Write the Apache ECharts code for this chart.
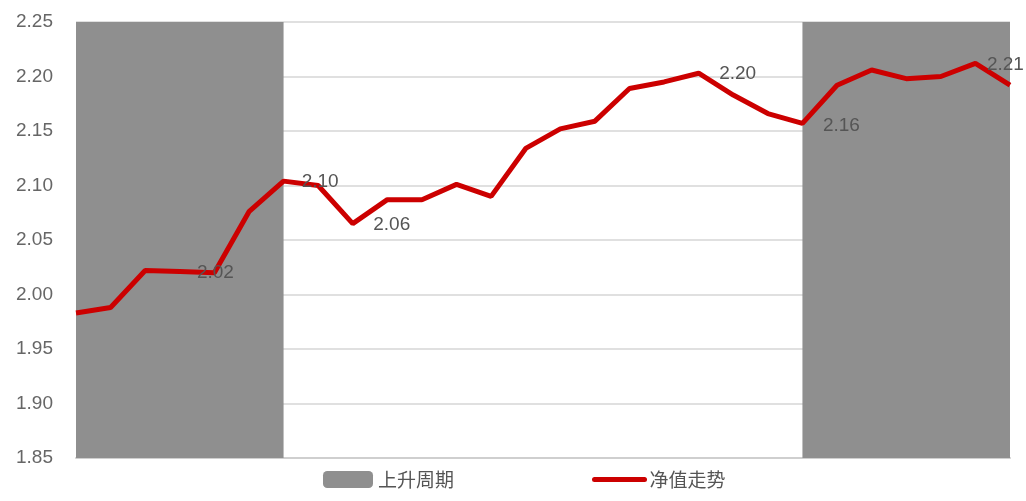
<!DOCTYPE html>
<html>
<head>
<meta charset="utf-8">
<script src="https://cdn.jsdelivr.net/npm/echarts@6/dist/echarts.min.js"></script>
<style>
html,body{margin:0;padding:0;background:#fff;}
#chart{width:1026px;height:501px;}
</style>
</head>
<body>
<div id="chart"></div>
<script>
// ---- data ----
var categories = ['P1','P2','P3','P4','P5','P6','P7','P8','P9','P10','P11','P12','P13','P14',
                  'P15','P16','P17','P18','P19','P20','P21','P22','P23','P24','P25','P26','P27','P28'];
var navValues = [1.983, 1.988, 2.022, 2.021, 2.020, 2.076, 2.104, 2.100, 2.065, 2.087, 2.087, 2.101, 2.090, 2.134,
                 2.152, 2.159, 2.189, 2.195, 2.203, 2.183, 2.166, 2.157, 2.192, 2.206, 2.198, 2.200, 2.212, 2.192];
var risingBand = [2.25, 2.25, 2.25, 2.25, 2.25, 2.25, 2.25, null, null, null, null, null, null, null,
                  null, null, null, null, null, null, null, 2.25, 2.25, 2.25, 2.25, 2.25, 2.25, 2.25];
var labeledIndices = [4, 7, 8, 18, 21, 26];
var yTicks = {min: 1.85, max: 2.25, interval: 0.05};
var seriesNames = ['上升周期', '净值走势'];

// ---- styling (label offsets per labeled point) ----
var labelOffsets = [[1, 0], [2, -4], [39, 1], [39, 1], [39, 2], [30, 1]];

var chart = echarts.init(document.getElementById('chart'));
var fontFamily = '"Liberation Sans", Arial, "Noto Sans CJK SC", sans-serif';

var markData = labeledIndices.map(function (idx, k) {
  return {
    coord: [idx, navValues[idx]],
    value: navValues[idx],
    label: {offset: labelOffsets[k]}
  };
});

chart.setOption({
  animation: false,
  textStyle: {fontFamily: fontFamily},
  grid: {left: 76, right: 16, top: 22, bottom: 43},
  legend: {
    left: 318,
    bottom: 7,
    itemWidth: 50,
    itemHeight: 17,
    itemGap: 138,
    textStyle: {fontSize: 19, color: '#555', fontFamily: '"Noto Sans CJK SC", sans-serif'},
    data: [
      {name: seriesNames[0], icon: 'roundRect'},
      {name: seriesNames[1], itemStyle: {color: 'rgba(0,0,0,0)', borderWidth: 0}, lineStyle: {width: 5, cap: 'round', color: '#cc0000'}}
    ]
  },
  xAxis: {
    type: 'category',
    data: categories,
    boundaryGap: false,
    axisLine: {show: true, lineStyle: {color: '#cfcfcf', width: 2}},
    axisTick: {show: false},
    axisLabel: {show: false},
    splitLine: {show: false}
  },
  yAxis: {
    type: 'value',
    min: yTicks.min,
    max: yTicks.max,
    interval: yTicks.interval,
    axisLine: {show: false},
    axisTick: {show: false},
    axisLabel: {
      color: '#666',
      fontSize: 19,
      margin: 23,
      formatter: function (v) { return v.toFixed(2); }
    },
    splitLine: {show: true, lineStyle: {color: '#e0e0e0', width: 2}}
  },
  series: [
    {
      name: seriesNames[0],
      type: 'line',
      data: risingBand,
      symbol: 'none',
      connectNulls: false,
      itemStyle: {color: '#8f8f8f'},
      lineStyle: {width: 0, color: '#8f8f8f'},
      areaStyle: {color: '#8f8f8f', opacity: 1},
      z: 1
    },
    {
      name: seriesNames[1],
      type: 'line',
      data: navValues,
      symbol: 'none',
      itemStyle: {color: '#cc0000'},
      lineStyle: {color: '#cc0000', width: 5},
      z: 3,
      markPoint: {
        symbol: 'circle',
        symbolSize: 1,
        itemStyle: {color: 'rgba(0,0,0,0)'},
        label: {
          show: true,
          position: 'inside',
          color: '#555',
          fontSize: 19,
          fontFamily: fontFamily,
          formatter: function (p) { return Number(p.value).toFixed(2); }
        },
        data: markData
      }
    }
  ]
});
</script>
</body>
</html>
